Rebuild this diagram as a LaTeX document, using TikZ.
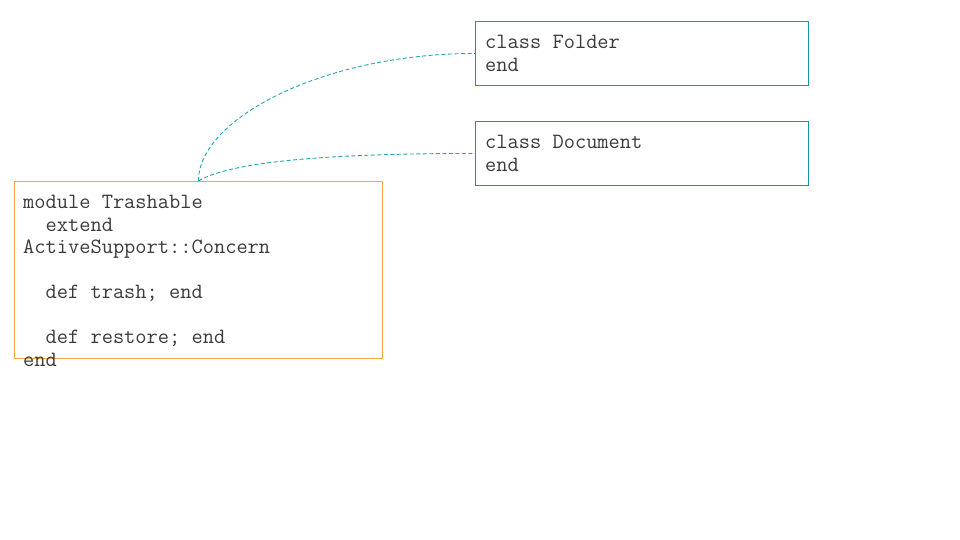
\documentclass[tikz,border=0pt]{standalone}
\usepackage{fontspec}
\definecolor{tealbox}{HTML}{1496A6}
\definecolor{tealline}{HTML}{22A6B3}
\definecolor{orangebox}{HTML}{F7A93E}
\definecolor{codegray}{HTML}{3A3A3A}
\tikzset{
  box/.style={draw, line width=0.9pt, anchor=north west, inner sep=0pt},
  classbox/.style={box, color=tealbox, minimum width=333pt, minimum height=64pt},
  modbox/.style={box, color=orangebox, minimum width=368pt, minimum height=177pt},
  code/.style={anchor=north west, inner sep=0pt, align=left, text=codegray,
    font=\ttfamily\fontsize{21.8}{22.5}\selectfont},
  link/.style={draw=tealline, line width=0.9pt, dash pattern=on 4pt off 2.5pt}
}
\begin{document}
\begin{tikzpicture}[x=1pt,y=-1pt]
\useasboundingbox (0,0) rectangle (960,540);
\node[classbox] (folder) at (475,21) {};
\node[classbox] (document) at (475,121) {};
\node[modbox] (trash) at (14,181) {};
\node[code] (foldertext) at (485,35) {class Folder\\end};
\node[code] (doctext) at (485,135) {class Document\\end};
\node[code] (trashtext) at (23,195) {module Trashable\\
\phantom{xx}extend\\
ActiveSupport::Concern\\[22.5pt]
\phantom{xx}def trash; end\\[22.5pt]
\phantom{xx}def restore; end\\
end};
\draw[link] (trash.north) .. controls ++(0,-63) and ([xshift=-150pt]folder.west) .. (folder.west);
\draw[link] (trash.north) .. controls ++(27,-16) and ([xshift=-175pt]document.west) .. (document.west);
\end{tikzpicture}
\end{document}
